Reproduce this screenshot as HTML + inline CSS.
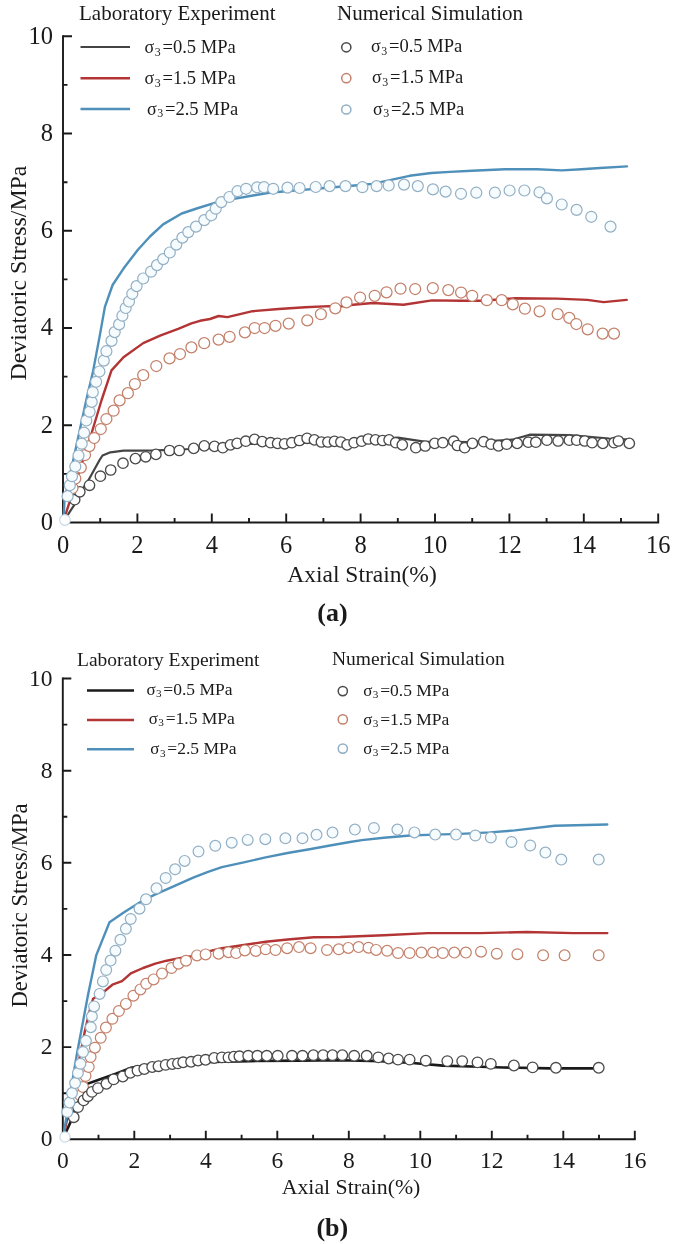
<!DOCTYPE html><html><head><meta charset="utf-8"><style>html,body{margin:0;padding:0;background:#fff;}svg{display:block;filter:blur(0.3px);}text{font-family:"Liberation Serif",serif;fill:#1a1a1a;}</style></head><body>
<svg width="685" height="1244" viewBox="0 0 685 1244">
<rect width="685" height="1244" fill="#fff"/>
<path d="M63.0,36.3 V522.5 H658.2" fill="none" stroke="#1a1a1a" stroke-width="1.9" stroke-linecap="square"/><path d="M100.2,522.5v-4.5 M137.4,522.5v-9 M174.6,522.5v-4.5 M211.8,522.5v-9 M249.0,522.5v-4.5 M286.2,522.5v-9 M323.4,522.5v-4.5 M360.6,522.5v-9 M397.8,522.5v-4.5 M435.0,522.5v-9 M472.2,522.5v-4.5 M509.4,522.5v-9 M546.6,522.5v-4.5 M583.8,522.5v-9 M621.0,522.5v-4.5 M658.2,522.5v-9 M63.0,473.9h4.5 M63.0,425.3h9 M63.0,376.6h4.5 M63.0,328.0h9 M63.0,279.4h4.5 M63.0,230.8h9 M63.0,182.2h4.5 M63.0,133.5h9 M63.0,84.9h4.5 M63.0,36.3h9" stroke="#1a1a1a" stroke-width="1.9" fill="none"/>
<text x="63.0" y="552.5" font-size="24.5" text-anchor="middle">0</text><text x="137.4" y="552.5" font-size="24.5" text-anchor="middle">2</text><text x="211.8" y="552.5" font-size="24.5" text-anchor="middle">4</text><text x="286.2" y="552.5" font-size="24.5" text-anchor="middle">6</text><text x="360.6" y="552.5" font-size="24.5" text-anchor="middle">8</text><text x="435.0" y="552.5" font-size="24.5" text-anchor="middle">10</text><text x="509.4" y="552.5" font-size="24.5" text-anchor="middle">12</text><text x="583.8" y="552.5" font-size="24.5" text-anchor="middle">14</text><text x="658.2" y="552.5" font-size="24.5" text-anchor="middle">16</text><text x="52.9" y="529.7" font-size="24.5" text-anchor="end">0</text><text x="52.9" y="432.5" font-size="24.5" text-anchor="end">2</text><text x="52.9" y="335.2" font-size="24.5" text-anchor="end">4</text><text x="52.9" y="238.0" font-size="24.5" text-anchor="end">6</text><text x="52.9" y="140.7" font-size="24.5" text-anchor="end">8</text><text x="52.9" y="43.5" font-size="24.5" text-anchor="end">10</text>
<polyline points="63.5,521.0 66.0,517.7 74.0,505.3 83.5,487.7 88.7,479.7 99.6,460.0 102.5,455.5 110.4,452.3 123.6,450.7 138.3,450.7 157.3,450.4 190.0,449.0 250.0,444.0 300.0,443.0 350.0,442.0 397.9,437.7 424.2,441.6 470.0,442.0 512.2,439.7 529.6,434.7 569.3,435.2 609.0,438.5 628.8,439.7" fill="none" stroke="#444" stroke-width="2.2" stroke-linejoin="round" stroke-linecap="round"/>
<polyline points="63.5,521.0 91.8,432.5 101.6,400.0 111.5,370.4 123.5,357.3 143.2,343.1 160.7,335.4 178.2,328.8 191.4,323.4 200.0,320.8 210.0,319.0 218.6,316.0 227.4,317.1 252.6,311.2 278.8,309.0 305.1,307.2 329.2,306.1 340.0,306.5 353.1,304.7 372.8,303.0 403.5,304.7 432.0,300.4 460.4,300.8 482.3,300.8 515.0,298.2 556.6,298.6 587.3,299.9 603.7,302.1 626.7,299.9" fill="none" stroke="#b33434" stroke-width="2.4" stroke-linejoin="round" stroke-linecap="round"/>
<polyline points="63.5,521.0 64.5,500.0 76.4,445.7 86.3,400.0 92.8,372.6 99.4,337.6 104.9,306.9 112.6,285.0 123.5,268.6 137.7,250.0 150.0,236.5 163.1,224.4 181.7,213.5 198.2,208.0 215.7,202.6 235.4,198.6 252.9,195.5 269.3,192.7 285.8,191.2 300.0,190.1 321.9,188.3 354.7,185.5 372.3,183.9 387.6,180.7 409.5,175.8 431.4,173.0 450.0,171.9 471.9,170.8 504.7,169.3 537.6,169.3 561.7,170.4 581.4,169.3 600.0,168.0 627.0,166.4" fill="none" stroke="#4f90ba" stroke-width="2.4" stroke-linejoin="round" stroke-linecap="round"/>
<circle cx="74.7" cy="499.7" r="5.2" fill="#fff" stroke="#4a4a4a" stroke-width="1.35"/><circle cx="79.8" cy="491.8" r="5.2" fill="#fff" stroke="#4a4a4a" stroke-width="1.35"/><circle cx="89.5" cy="485.3" r="5.2" fill="#fff" stroke="#4a4a4a" stroke-width="1.35"/><circle cx="100.4" cy="476.2" r="5.2" fill="#fff" stroke="#4a4a4a" stroke-width="1.35"/><circle cx="110.7" cy="470.0" r="5.2" fill="#fff" stroke="#4a4a4a" stroke-width="1.35"/><circle cx="123.0" cy="463.2" r="5.2" fill="#fff" stroke="#4a4a4a" stroke-width="1.35"/><circle cx="135.4" cy="458.6" r="5.2" fill="#fff" stroke="#4a4a4a" stroke-width="1.35"/><circle cx="145.7" cy="456.8" r="5.2" fill="#fff" stroke="#4a4a4a" stroke-width="1.35"/><circle cx="155.9" cy="454.4" r="5.2" fill="#fff" stroke="#4a4a4a" stroke-width="1.35"/><circle cx="169.5" cy="450.5" r="5.2" fill="#fff" stroke="#4a4a4a" stroke-width="1.35"/><circle cx="179.3" cy="450.5" r="5.2" fill="#fff" stroke="#4a4a4a" stroke-width="1.35"/><circle cx="193.7" cy="448.4" r="5.2" fill="#fff" stroke="#4a4a4a" stroke-width="1.35"/><circle cx="204.3" cy="445.9" r="5.2" fill="#fff" stroke="#4a4a4a" stroke-width="1.35"/><circle cx="214.5" cy="446.4" r="5.2" fill="#fff" stroke="#4a4a4a" stroke-width="1.35"/><circle cx="222.8" cy="447.7" r="5.2" fill="#fff" stroke="#4a4a4a" stroke-width="1.35"/><circle cx="230.5" cy="444.9" r="5.2" fill="#fff" stroke="#4a4a4a" stroke-width="1.35"/><circle cx="237.1" cy="443.4" r="5.2" fill="#fff" stroke="#4a4a4a" stroke-width="1.35"/><circle cx="245.8" cy="441.2" r="5.2" fill="#fff" stroke="#4a4a4a" stroke-width="1.35"/><circle cx="254.6" cy="439.4" r="5.2" fill="#fff" stroke="#4a4a4a" stroke-width="1.35"/><circle cx="262.3" cy="441.6" r="5.2" fill="#fff" stroke="#4a4a4a" stroke-width="1.35"/><circle cx="270.6" cy="442.7" r="5.2" fill="#fff" stroke="#4a4a4a" stroke-width="1.35"/><circle cx="277.6" cy="443.4" r="5.2" fill="#fff" stroke="#4a4a4a" stroke-width="1.35"/><circle cx="284.6" cy="443.8" r="5.2" fill="#fff" stroke="#4a4a4a" stroke-width="1.35"/><circle cx="291.8" cy="442.7" r="5.2" fill="#fff" stroke="#4a4a4a" stroke-width="1.35"/><circle cx="299.5" cy="440.5" r="5.2" fill="#fff" stroke="#4a4a4a" stroke-width="1.35"/><circle cx="307.1" cy="438.3" r="5.2" fill="#fff" stroke="#4a4a4a" stroke-width="1.35"/><circle cx="314.4" cy="439.9" r="5.2" fill="#fff" stroke="#4a4a4a" stroke-width="1.35"/><circle cx="321.4" cy="442.0" r="5.2" fill="#fff" stroke="#4a4a4a" stroke-width="1.35"/><circle cx="327.9" cy="442.0" r="5.2" fill="#fff" stroke="#4a4a4a" stroke-width="1.35"/><circle cx="334.5" cy="441.4" r="5.2" fill="#fff" stroke="#4a4a4a" stroke-width="1.35"/><circle cx="340.9" cy="442.0" r="5.2" fill="#fff" stroke="#4a4a4a" stroke-width="1.35"/><circle cx="347.1" cy="444.9" r="5.2" fill="#fff" stroke="#4a4a4a" stroke-width="1.35"/><circle cx="354.1" cy="442.7" r="5.2" fill="#fff" stroke="#4a4a4a" stroke-width="1.35"/><circle cx="361.7" cy="441.2" r="5.2" fill="#fff" stroke="#4a4a4a" stroke-width="1.35"/><circle cx="368.3" cy="439.0" r="5.2" fill="#fff" stroke="#4a4a4a" stroke-width="1.35"/><circle cx="375.5" cy="439.9" r="5.2" fill="#fff" stroke="#4a4a4a" stroke-width="1.35"/><circle cx="382.6" cy="440.5" r="5.2" fill="#fff" stroke="#4a4a4a" stroke-width="1.35"/><circle cx="389.1" cy="439.9" r="5.2" fill="#fff" stroke="#4a4a4a" stroke-width="1.35"/><circle cx="395.7" cy="442.7" r="5.2" fill="#fff" stroke="#4a4a4a" stroke-width="1.35"/><circle cx="402.3" cy="444.9" r="5.2" fill="#fff" stroke="#4a4a4a" stroke-width="1.35"/><circle cx="415.8" cy="447.7" r="5.2" fill="#fff" stroke="#4a4a4a" stroke-width="1.35"/><circle cx="425.2" cy="446.0" r="5.2" fill="#fff" stroke="#4a4a4a" stroke-width="1.35"/><circle cx="434.7" cy="443.4" r="5.2" fill="#fff" stroke="#4a4a4a" stroke-width="1.35"/><circle cx="442.8" cy="442.7" r="5.2" fill="#fff" stroke="#4a4a4a" stroke-width="1.35"/><circle cx="453.7" cy="441.2" r="5.2" fill="#fff" stroke="#4a4a4a" stroke-width="1.35"/><circle cx="457.4" cy="445.5" r="5.2" fill="#fff" stroke="#4a4a4a" stroke-width="1.35"/><circle cx="464.7" cy="447.7" r="5.2" fill="#fff" stroke="#4a4a4a" stroke-width="1.35"/><circle cx="472.4" cy="443.4" r="5.2" fill="#fff" stroke="#4a4a4a" stroke-width="1.35"/><circle cx="483.7" cy="441.7" r="5.2" fill="#fff" stroke="#4a4a4a" stroke-width="1.35"/><circle cx="491.1" cy="444.2" r="5.2" fill="#fff" stroke="#4a4a4a" stroke-width="1.35"/><circle cx="498.5" cy="445.9" r="5.2" fill="#fff" stroke="#4a4a4a" stroke-width="1.35"/><circle cx="506.7" cy="444.2" r="5.2" fill="#fff" stroke="#4a4a4a" stroke-width="1.35"/><circle cx="517.2" cy="443.4" r="5.2" fill="#fff" stroke="#4a4a4a" stroke-width="1.35"/><circle cx="528.3" cy="442.2" r="5.2" fill="#fff" stroke="#4a4a4a" stroke-width="1.35"/><circle cx="535.8" cy="442.2" r="5.2" fill="#fff" stroke="#4a4a4a" stroke-width="1.35"/><circle cx="546.9" cy="440.2" r="5.2" fill="#fff" stroke="#4a4a4a" stroke-width="1.35"/><circle cx="558.1" cy="441.0" r="5.2" fill="#fff" stroke="#4a4a4a" stroke-width="1.35"/><circle cx="569.3" cy="440.2" r="5.2" fill="#fff" stroke="#4a4a4a" stroke-width="1.35"/><circle cx="576.7" cy="440.2" r="5.2" fill="#fff" stroke="#4a4a4a" stroke-width="1.35"/><circle cx="584.7" cy="441.0" r="5.2" fill="#fff" stroke="#4a4a4a" stroke-width="1.35"/><circle cx="592.1" cy="442.7" r="5.2" fill="#fff" stroke="#4a4a4a" stroke-width="1.35"/><circle cx="602.8" cy="443.4" r="5.2" fill="#fff" stroke="#4a4a4a" stroke-width="1.35"/><circle cx="614.0" cy="442.7" r="5.2" fill="#fff" stroke="#4a4a4a" stroke-width="1.35"/><circle cx="618.4" cy="441.0" r="5.2" fill="#fff" stroke="#4a4a4a" stroke-width="1.35"/><circle cx="629.3" cy="443.4" r="5.2" fill="#fff" stroke="#4a4a4a" stroke-width="1.35"/>
<circle cx="72.5" cy="488.0" r="5.5" fill="#fff" stroke="#c4806a" stroke-width="1.25"/><circle cx="75.3" cy="478.5" r="5.5" fill="#fff" stroke="#c4806a" stroke-width="1.25"/><circle cx="80.8" cy="467.6" r="5.5" fill="#fff" stroke="#c4806a" stroke-width="1.25"/><circle cx="85.0" cy="455.0" r="5.5" fill="#fff" stroke="#c4806a" stroke-width="1.25"/><circle cx="89.4" cy="446.1" r="5.5" fill="#fff" stroke="#c4806a" stroke-width="1.25"/><circle cx="94.2" cy="438.0" r="5.5" fill="#fff" stroke="#c4806a" stroke-width="1.25"/><circle cx="100.8" cy="429.0" r="5.5" fill="#fff" stroke="#c4806a" stroke-width="1.25"/><circle cx="106.4" cy="419.0" r="5.5" fill="#fff" stroke="#c4806a" stroke-width="1.25"/><circle cx="113.6" cy="410.7" r="5.5" fill="#fff" stroke="#c4806a" stroke-width="1.25"/><circle cx="119.6" cy="400.4" r="5.5" fill="#fff" stroke="#c4806a" stroke-width="1.25"/><circle cx="127.9" cy="393.2" r="5.5" fill="#fff" stroke="#c4806a" stroke-width="1.25"/><circle cx="134.9" cy="384.0" r="5.5" fill="#fff" stroke="#c4806a" stroke-width="1.25"/><circle cx="143.2" cy="375.2" r="5.5" fill="#fff" stroke="#c4806a" stroke-width="1.25"/><circle cx="156.3" cy="366.0" r="5.5" fill="#fff" stroke="#c4806a" stroke-width="1.25"/><circle cx="169.5" cy="358.4" r="5.5" fill="#fff" stroke="#c4806a" stroke-width="1.25"/><circle cx="180.0" cy="354.0" r="5.5" fill="#fff" stroke="#c4806a" stroke-width="1.25"/><circle cx="191.4" cy="347.4" r="5.5" fill="#fff" stroke="#c4806a" stroke-width="1.25"/><circle cx="204.2" cy="343.2" r="5.5" fill="#fff" stroke="#c4806a" stroke-width="1.25"/><circle cx="218.6" cy="339.6" r="5.5" fill="#fff" stroke="#c4806a" stroke-width="1.25"/><circle cx="229.6" cy="336.8" r="5.5" fill="#fff" stroke="#c4806a" stroke-width="1.25"/><circle cx="244.9" cy="332.4" r="5.5" fill="#fff" stroke="#c4806a" stroke-width="1.25"/><circle cx="254.7" cy="328.0" r="5.5" fill="#fff" stroke="#c4806a" stroke-width="1.25"/><circle cx="264.6" cy="328.0" r="5.5" fill="#fff" stroke="#c4806a" stroke-width="1.25"/><circle cx="275.5" cy="325.8" r="5.5" fill="#fff" stroke="#c4806a" stroke-width="1.25"/><circle cx="288.7" cy="323.6" r="5.5" fill="#fff" stroke="#c4806a" stroke-width="1.25"/><circle cx="307.3" cy="320.4" r="5.5" fill="#fff" stroke="#c4806a" stroke-width="1.25"/><circle cx="320.9" cy="314.2" r="5.5" fill="#fff" stroke="#c4806a" stroke-width="1.25"/><circle cx="335.3" cy="308.3" r="5.5" fill="#fff" stroke="#c4806a" stroke-width="1.25"/><circle cx="346.5" cy="302.4" r="5.5" fill="#fff" stroke="#c4806a" stroke-width="1.25"/><circle cx="360.1" cy="297.5" r="5.5" fill="#fff" stroke="#c4806a" stroke-width="1.25"/><circle cx="374.7" cy="295.8" r="5.5" fill="#fff" stroke="#c4806a" stroke-width="1.25"/><circle cx="386.5" cy="292.3" r="5.5" fill="#fff" stroke="#c4806a" stroke-width="1.25"/><circle cx="400.5" cy="288.7" r="5.5" fill="#fff" stroke="#c4806a" stroke-width="1.25"/><circle cx="415.2" cy="289.0" r="5.5" fill="#fff" stroke="#c4806a" stroke-width="1.25"/><circle cx="432.8" cy="288.1" r="5.5" fill="#fff" stroke="#c4806a" stroke-width="1.25"/><circle cx="448.3" cy="290.1" r="5.5" fill="#fff" stroke="#c4806a" stroke-width="1.25"/><circle cx="461.1" cy="292.5" r="5.5" fill="#fff" stroke="#c4806a" stroke-width="1.25"/><circle cx="472.2" cy="295.8" r="5.5" fill="#fff" stroke="#c4806a" stroke-width="1.25"/><circle cx="486.8" cy="300.2" r="5.5" fill="#fff" stroke="#c4806a" stroke-width="1.25"/><circle cx="501.7" cy="300.2" r="5.5" fill="#fff" stroke="#c4806a" stroke-width="1.25"/><circle cx="512.8" cy="304.3" r="5.5" fill="#fff" stroke="#c4806a" stroke-width="1.25"/><circle cx="524.9" cy="308.7" r="5.5" fill="#fff" stroke="#c4806a" stroke-width="1.25"/><circle cx="539.6" cy="311.3" r="5.5" fill="#fff" stroke="#c4806a" stroke-width="1.25"/><circle cx="557.7" cy="314.2" r="5.5" fill="#fff" stroke="#c4806a" stroke-width="1.25"/><circle cx="569.3" cy="317.9" r="5.5" fill="#fff" stroke="#c4806a" stroke-width="1.25"/><circle cx="576.3" cy="324.0" r="5.5" fill="#fff" stroke="#c4806a" stroke-width="1.25"/><circle cx="587.7" cy="329.3" r="5.5" fill="#fff" stroke="#c4806a" stroke-width="1.25"/><circle cx="602.6" cy="333.6" r="5.5" fill="#fff" stroke="#c4806a" stroke-width="1.25"/><circle cx="614.0" cy="333.6" r="5.5" fill="#fff" stroke="#c4806a" stroke-width="1.25"/>
<circle cx="67.6" cy="496.2" r="5.5" fill="#f6fbfd" stroke="#93afc3" stroke-width="1.2"/><circle cx="69.8" cy="485.3" r="5.5" fill="#f6fbfd" stroke="#93afc3" stroke-width="1.2"/><circle cx="72.0" cy="476.2" r="5.5" fill="#f6fbfd" stroke="#93afc3" stroke-width="1.2"/><circle cx="75.3" cy="466.5" r="5.5" fill="#f6fbfd" stroke="#93afc3" stroke-width="1.2"/><circle cx="78.5" cy="455.5" r="5.5" fill="#f6fbfd" stroke="#93afc3" stroke-width="1.2"/><circle cx="81.7" cy="443.7" r="5.5" fill="#f6fbfd" stroke="#93afc3" stroke-width="1.2"/><circle cx="84.1" cy="432.7" r="5.5" fill="#f6fbfd" stroke="#93afc3" stroke-width="1.2"/><circle cx="86.3" cy="420.5" r="5.5" fill="#f6fbfd" stroke="#93afc3" stroke-width="1.2"/><circle cx="89.6" cy="411.7" r="5.5" fill="#f6fbfd" stroke="#93afc3" stroke-width="1.2"/><circle cx="91.7" cy="401.9" r="5.5" fill="#f6fbfd" stroke="#93afc3" stroke-width="1.2"/><circle cx="92.8" cy="392.2" r="5.5" fill="#f6fbfd" stroke="#93afc3" stroke-width="1.2"/><circle cx="96.1" cy="381.8" r="5.5" fill="#f6fbfd" stroke="#93afc3" stroke-width="1.2"/><circle cx="99.4" cy="371.5" r="5.5" fill="#f6fbfd" stroke="#93afc3" stroke-width="1.2"/><circle cx="103.8" cy="360.6" r="5.5" fill="#f6fbfd" stroke="#93afc3" stroke-width="1.2"/><circle cx="106.4" cy="351.2" r="5.5" fill="#f6fbfd" stroke="#93afc3" stroke-width="1.2"/><circle cx="111.5" cy="340.9" r="5.5" fill="#f6fbfd" stroke="#93afc3" stroke-width="1.2"/><circle cx="114.7" cy="332.1" r="5.5" fill="#f6fbfd" stroke="#93afc3" stroke-width="1.2"/><circle cx="119.1" cy="324.4" r="5.5" fill="#f6fbfd" stroke="#93afc3" stroke-width="1.2"/><circle cx="122.4" cy="315.7" r="5.5" fill="#f6fbfd" stroke="#93afc3" stroke-width="1.2"/><circle cx="125.7" cy="308.0" r="5.5" fill="#f6fbfd" stroke="#93afc3" stroke-width="1.2"/><circle cx="129.0" cy="301.5" r="5.5" fill="#f6fbfd" stroke="#93afc3" stroke-width="1.2"/><circle cx="132.3" cy="293.8" r="5.5" fill="#f6fbfd" stroke="#93afc3" stroke-width="1.2"/><circle cx="136.6" cy="286.1" r="5.5" fill="#f6fbfd" stroke="#93afc3" stroke-width="1.2"/><circle cx="143.2" cy="278.5" r="5.5" fill="#f6fbfd" stroke="#93afc3" stroke-width="1.2"/><circle cx="151.0" cy="271.7" r="5.5" fill="#f6fbfd" stroke="#93afc3" stroke-width="1.2"/><circle cx="157.0" cy="265.1" r="5.5" fill="#f6fbfd" stroke="#93afc3" stroke-width="1.2"/><circle cx="163.2" cy="259.1" r="5.5" fill="#f6fbfd" stroke="#93afc3" stroke-width="1.2"/><circle cx="169.8" cy="252.5" r="5.5" fill="#f6fbfd" stroke="#93afc3" stroke-width="1.2"/><circle cx="176.3" cy="244.6" r="5.5" fill="#f6fbfd" stroke="#93afc3" stroke-width="1.2"/><circle cx="182.4" cy="237.6" r="5.5" fill="#f6fbfd" stroke="#93afc3" stroke-width="1.2"/><circle cx="188.3" cy="232.1" r="5.5" fill="#f6fbfd" stroke="#93afc3" stroke-width="1.2"/><circle cx="196.0" cy="226.6" r="5.5" fill="#f6fbfd" stroke="#93afc3" stroke-width="1.2"/><circle cx="204.3" cy="220.1" r="5.5" fill="#f6fbfd" stroke="#93afc3" stroke-width="1.2"/><circle cx="211.3" cy="215.3" r="5.5" fill="#f6fbfd" stroke="#93afc3" stroke-width="1.2"/><circle cx="215.7" cy="208.7" r="5.5" fill="#f6fbfd" stroke="#93afc3" stroke-width="1.2"/><circle cx="221.3" cy="202.1" r="5.5" fill="#f6fbfd" stroke="#93afc3" stroke-width="1.2"/><circle cx="229.4" cy="197.0" r="5.5" fill="#f6fbfd" stroke="#93afc3" stroke-width="1.2"/><circle cx="237.5" cy="191.2" r="5.5" fill="#f6fbfd" stroke="#93afc3" stroke-width="1.2"/><circle cx="246.1" cy="188.8" r="5.5" fill="#f6fbfd" stroke="#93afc3" stroke-width="1.2"/><circle cx="257.2" cy="187.3" r="5.5" fill="#f6fbfd" stroke="#93afc3" stroke-width="1.2"/><circle cx="264.0" cy="187.2" r="5.5" fill="#f6fbfd" stroke="#93afc3" stroke-width="1.2"/><circle cx="273.2" cy="188.8" r="5.5" fill="#f6fbfd" stroke="#93afc3" stroke-width="1.2"/><circle cx="287.5" cy="187.6" r="5.5" fill="#f6fbfd" stroke="#93afc3" stroke-width="1.2"/><circle cx="299.6" cy="188.0" r="5.5" fill="#f6fbfd" stroke="#93afc3" stroke-width="1.2"/><circle cx="315.7" cy="187.0" r="5.5" fill="#f6fbfd" stroke="#93afc3" stroke-width="1.2"/><circle cx="329.6" cy="186.1" r="5.5" fill="#f6fbfd" stroke="#93afc3" stroke-width="1.2"/><circle cx="345.5" cy="186.1" r="5.5" fill="#f6fbfd" stroke="#93afc3" stroke-width="1.2"/><circle cx="362.4" cy="187.2" r="5.5" fill="#f6fbfd" stroke="#93afc3" stroke-width="1.2"/><circle cx="376.6" cy="186.1" r="5.5" fill="#f6fbfd" stroke="#93afc3" stroke-width="1.2"/><circle cx="388.7" cy="185.5" r="5.5" fill="#f6fbfd" stroke="#93afc3" stroke-width="1.2"/><circle cx="404.0" cy="184.6" r="5.5" fill="#f6fbfd" stroke="#93afc3" stroke-width="1.2"/><circle cx="417.8" cy="186.1" r="5.5" fill="#f6fbfd" stroke="#93afc3" stroke-width="1.2"/><circle cx="432.9" cy="189.4" r="5.5" fill="#f6fbfd" stroke="#93afc3" stroke-width="1.2"/><circle cx="445.6" cy="191.6" r="5.5" fill="#f6fbfd" stroke="#93afc3" stroke-width="1.2"/><circle cx="461.0" cy="193.8" r="5.5" fill="#f6fbfd" stroke="#93afc3" stroke-width="1.2"/><circle cx="476.3" cy="192.7" r="5.5" fill="#f6fbfd" stroke="#93afc3" stroke-width="1.2"/><circle cx="494.9" cy="192.7" r="5.5" fill="#f6fbfd" stroke="#93afc3" stroke-width="1.2"/><circle cx="509.6" cy="190.5" r="5.5" fill="#f6fbfd" stroke="#93afc3" stroke-width="1.2"/><circle cx="524.4" cy="190.5" r="5.5" fill="#f6fbfd" stroke="#93afc3" stroke-width="1.2"/><circle cx="539.5" cy="192.3" r="5.5" fill="#f6fbfd" stroke="#93afc3" stroke-width="1.2"/><circle cx="546.9" cy="198.4" r="5.5" fill="#f6fbfd" stroke="#93afc3" stroke-width="1.2"/><circle cx="561.7" cy="204.5" r="5.5" fill="#f6fbfd" stroke="#93afc3" stroke-width="1.2"/><circle cx="576.6" cy="209.9" r="5.5" fill="#f6fbfd" stroke="#93afc3" stroke-width="1.2"/><circle cx="591.3" cy="216.8" r="5.5" fill="#f6fbfd" stroke="#93afc3" stroke-width="1.2"/><circle cx="610.5" cy="226.6" r="5.5" fill="#f6fbfd" stroke="#93afc3" stroke-width="1.2"/>
<circle cx="65.0" cy="520.0" r="5.3" fill="#fff" stroke="#c9dbe6" stroke-width="1.2"/>
<text x="79" y="19.6" font-size="21">Laboratory Experiment</text>
<text x="337" y="20" font-size="21">Numerical Simulation</text>
<line x1="80.5" y1="47" x2="130" y2="47" stroke="#444" stroke-width="2.2"/>
<line x1="80.5" y1="78.3" x2="130" y2="78.3" stroke="#b33434" stroke-width="2.4"/>
<line x1="80.5" y1="109" x2="130" y2="109" stroke="#4f90ba" stroke-width="2.4"/>
<text x="144.5" y="52.8" font-size="18">σ<tspan font-size="11.9" dy="2.7" dx="0.5">3</tspan><tspan dy="-2.7" dx="1.8" font-size="18.54">=0.5 MPa</tspan></text>
<text x="144.5" y="84" font-size="18">σ<tspan font-size="11.9" dy="2.7" dx="0.5">3</tspan><tspan dy="-2.7" dx="1.8" font-size="18.54">=1.5 MPa</tspan></text>
<text x="147" y="114.7" font-size="18">σ<tspan font-size="11.9" dy="2.7" dx="0.5">3</tspan><tspan dy="-2.7" dx="1.8" font-size="18.54">=2.5 MPa</tspan></text>
<circle cx="346.3" cy="47.3" r="4.6" fill="#fff" stroke="#4a4a4a" stroke-width="1.5"/>
<circle cx="346.3" cy="78.2" r="4.6" fill="#fff" stroke="#c4806a" stroke-width="1.5"/>
<circle cx="346.3" cy="109.5" r="4.6" fill="#fff" stroke="#93afc3" stroke-width="1.5"/>
<text x="371" y="52" font-size="18">σ<tspan font-size="11.9" dy="2.7" dx="0.5">3</tspan><tspan dy="-2.7" dx="1.8" font-size="18.54">=0.5 MPa</tspan></text>
<text x="372" y="83.2" font-size="18">σ<tspan font-size="11.9" dy="2.7" dx="0.5">3</tspan><tspan dy="-2.7" dx="1.8" font-size="18.54">=1.5 MPa</tspan></text>
<text x="373" y="114.5" font-size="18">σ<tspan font-size="11.9" dy="2.7" dx="0.5">3</tspan><tspan dy="-2.7" dx="1.8" font-size="18.54">=2.5 MPa</tspan></text>
<text x="362" y="581.5" font-size="23.5" text-anchor="middle">Axial Strain(%)</text>
<text transform="translate(26.2,273) rotate(-90)" font-size="23.8" text-anchor="middle">Deviatoric Stress/MPa</text>
<text x="332.5" y="621.3" font-size="26" font-weight="bold" text-anchor="middle">(a)</text>
<path d="M62.8,678.5 V1139.3 H634.8" fill="none" stroke="#1a1a1a" stroke-width="1.9" stroke-linecap="square"/><path d="M98.5,1139.3v-4.5 M134.3,1139.3v-8.5 M170.1,1139.3v-4.5 M205.8,1139.3v-8.5 M241.6,1139.3v-4.5 M277.3,1139.3v-8.5 M313.1,1139.3v-4.5 M348.8,1139.3v-8.5 M384.6,1139.3v-4.5 M420.3,1139.3v-8.5 M456.1,1139.3v-4.5 M491.8,1139.3v-8.5 M527.5,1139.3v-4.5 M563.3,1139.3v-8.5 M599.0,1139.3v-4.5 M634.8,1139.3v-8.5 M62.8,1093.2h4.5 M62.8,1047.1h8.5 M62.8,1001.1h4.5 M62.8,955.0h8.5 M62.8,908.9h4.5 M62.8,862.8h8.5 M62.8,816.7h4.5 M62.8,770.7h8.5 M62.8,724.6h4.5 M62.8,678.5h8.5" stroke="#1a1a1a" stroke-width="1.9" fill="none"/>
<text x="62.8" y="1167.8" font-size="23.5" text-anchor="middle">0</text><text x="134.3" y="1167.8" font-size="23.5" text-anchor="middle">2</text><text x="205.8" y="1167.8" font-size="23.5" text-anchor="middle">4</text><text x="277.3" y="1167.8" font-size="23.5" text-anchor="middle">6</text><text x="348.8" y="1167.8" font-size="23.5" text-anchor="middle">8</text><text x="420.3" y="1167.8" font-size="23.5" text-anchor="middle">10</text><text x="491.8" y="1167.8" font-size="23.5" text-anchor="middle">12</text><text x="563.3" y="1167.8" font-size="23.5" text-anchor="middle">14</text><text x="634.8" y="1167.8" font-size="23.5" text-anchor="middle">16</text><text x="52.6" y="1146.3" font-size="23.5" text-anchor="end">0</text><text x="52.6" y="1054.1" font-size="23.5" text-anchor="end">2</text><text x="52.6" y="962.0" font-size="23.5" text-anchor="end">4</text><text x="52.6" y="869.8" font-size="23.5" text-anchor="end">6</text><text x="52.6" y="777.7" font-size="23.5" text-anchor="end">8</text><text x="52.6" y="685.5" font-size="23.5" text-anchor="end">10</text>
<polyline points="63.8,1137.0 70.4,1122.4 74.1,1112.1 85.7,1084.4 96.0,1080.7 116.4,1073.4 130.7,1067.9 150.0,1064.6 175.0,1062.6 200.0,1062.1 250.0,1061.1 300.0,1060.6 340.0,1060.2 380.0,1061.1 412.3,1063.0 442.9,1065.6 480.0,1066.8 503.4,1067.5 550.1,1068.4 599.1,1068.4" fill="none" stroke="#1a1a1a" stroke-width="2.6" stroke-linejoin="round" stroke-linecap="round"/>
<polyline points="63.5,1137.0 72.0,1095.0 82.1,1045.0 84.9,1031.0 89.6,1011.0 93.1,998.7 104.5,991.2 112.4,984.7 122.0,981.2 130.8,973.3 143.1,968.0 155.3,963.7 166.7,960.7 178.1,958.4 192.1,956.1 200.0,953.5 221.9,948.2 243.8,945.0 265.7,941.7 287.6,939.5 313.9,937.3 340.0,937.0 383.8,935.3 427.6,933.1 480.0,933.1 526.7,932.0 573.4,933.1 607.3,933.1" fill="none" stroke="#b33434" stroke-width="2.4" stroke-linejoin="round" stroke-linecap="round"/>
<polyline points="63.5,1135.0 76.6,1055.7 88.0,995.0 96.3,955.1 109.5,922.3 123.7,912.4 141.2,901.5 154.3,894.9 174.1,886.1 193.8,877.4 208.0,871.9 221.9,867.2 243.8,862.4 265.7,857.4 287.6,853.0 309.5,849.3 331.4,845.3 350.0,842.0 361.9,840.1 383.8,837.7 410.1,835.5 434.2,834.6 460.4,833.9 490.0,832.4 515.0,830.4 554.7,825.7 607.3,824.5" fill="none" stroke="#4f90ba" stroke-width="2.4" stroke-linejoin="round" stroke-linecap="round"/>
<circle cx="80.5" cy="1095.5" r="5.4" fill="#fff" stroke="#c4806a" stroke-width="1.2"/><circle cx="83.0" cy="1087.0" r="5.4" fill="#fff" stroke="#c4806a" stroke-width="1.2"/><circle cx="85.5" cy="1076.0" r="5.4" fill="#fff" stroke="#c4806a" stroke-width="1.2"/><circle cx="88.7" cy="1067.0" r="5.4" fill="#fff" stroke="#c4806a" stroke-width="1.2"/><circle cx="90.6" cy="1057.0" r="5.4" fill="#fff" stroke="#c4806a" stroke-width="1.2"/><circle cx="94.9" cy="1047.7" r="5.4" fill="#fff" stroke="#c4806a" stroke-width="1.2"/><circle cx="100.7" cy="1037.8" r="5.4" fill="#fff" stroke="#c4806a" stroke-width="1.2"/><circle cx="105.9" cy="1027.6" r="5.4" fill="#fff" stroke="#c4806a" stroke-width="1.2"/><circle cx="112.4" cy="1018.8" r="5.4" fill="#fff" stroke="#c4806a" stroke-width="1.2"/><circle cx="118.9" cy="1011.0" r="5.4" fill="#fff" stroke="#c4806a" stroke-width="1.2"/><circle cx="125.9" cy="1003.9" r="5.4" fill="#fff" stroke="#c4806a" stroke-width="1.2"/><circle cx="133.4" cy="995.7" r="5.4" fill="#fff" stroke="#c4806a" stroke-width="1.2"/><circle cx="140.4" cy="989.4" r="5.4" fill="#fff" stroke="#c4806a" stroke-width="1.2"/><circle cx="146.2" cy="983.8" r="5.4" fill="#fff" stroke="#c4806a" stroke-width="1.2"/><circle cx="153.6" cy="979.4" r="5.4" fill="#fff" stroke="#c4806a" stroke-width="1.2"/><circle cx="162.0" cy="973.6" r="5.4" fill="#fff" stroke="#c4806a" stroke-width="1.2"/><circle cx="171.5" cy="968.0" r="5.4" fill="#fff" stroke="#c4806a" stroke-width="1.2"/><circle cx="178.5" cy="963.7" r="5.4" fill="#fff" stroke="#c4806a" stroke-width="1.2"/><circle cx="186.0" cy="960.7" r="5.4" fill="#fff" stroke="#c4806a" stroke-width="1.2"/><circle cx="197.0" cy="955.4" r="5.4" fill="#fff" stroke="#c4806a" stroke-width="1.2"/><circle cx="205.6" cy="954.4" r="5.4" fill="#fff" stroke="#c4806a" stroke-width="1.2"/><circle cx="218.6" cy="953.7" r="5.4" fill="#fff" stroke="#c4806a" stroke-width="1.2"/><circle cx="228.5" cy="952.2" r="5.4" fill="#fff" stroke="#c4806a" stroke-width="1.2"/><circle cx="236.1" cy="953.1" r="5.4" fill="#fff" stroke="#c4806a" stroke-width="1.2"/><circle cx="244.9" cy="950.4" r="5.4" fill="#fff" stroke="#c4806a" stroke-width="1.2"/><circle cx="255.8" cy="950.9" r="5.4" fill="#fff" stroke="#c4806a" stroke-width="1.2"/><circle cx="265.7" cy="949.3" r="5.4" fill="#fff" stroke="#c4806a" stroke-width="1.2"/><circle cx="275.5" cy="950.0" r="5.4" fill="#fff" stroke="#c4806a" stroke-width="1.2"/><circle cx="287.1" cy="948.2" r="5.4" fill="#fff" stroke="#c4806a" stroke-width="1.2"/><circle cx="299.0" cy="947.1" r="5.4" fill="#fff" stroke="#c4806a" stroke-width="1.2"/><circle cx="310.6" cy="948.2" r="5.4" fill="#fff" stroke="#c4806a" stroke-width="1.2"/><circle cx="327.0" cy="950.0" r="5.4" fill="#fff" stroke="#c4806a" stroke-width="1.2"/><circle cx="338.8" cy="949.3" r="5.4" fill="#fff" stroke="#c4806a" stroke-width="1.2"/><circle cx="348.3" cy="947.9" r="5.4" fill="#fff" stroke="#c4806a" stroke-width="1.2"/><circle cx="358.6" cy="947.1" r="5.4" fill="#fff" stroke="#c4806a" stroke-width="1.2"/><circle cx="368.5" cy="947.7" r="5.4" fill="#fff" stroke="#c4806a" stroke-width="1.2"/><circle cx="376.1" cy="949.9" r="5.4" fill="#fff" stroke="#c4806a" stroke-width="1.2"/><circle cx="387.1" cy="950.8" r="5.4" fill="#fff" stroke="#c4806a" stroke-width="1.2"/><circle cx="398.0" cy="953.0" r="5.4" fill="#fff" stroke="#c4806a" stroke-width="1.2"/><circle cx="409.6" cy="953.0" r="5.4" fill="#fff" stroke="#c4806a" stroke-width="1.2"/><circle cx="421.5" cy="952.6" r="5.4" fill="#fff" stroke="#c4806a" stroke-width="1.2"/><circle cx="433.1" cy="952.6" r="5.4" fill="#fff" stroke="#c4806a" stroke-width="1.2"/><circle cx="442.9" cy="953.0" r="5.4" fill="#fff" stroke="#c4806a" stroke-width="1.2"/><circle cx="454.3" cy="952.6" r="5.4" fill="#fff" stroke="#c4806a" stroke-width="1.2"/><circle cx="465.9" cy="952.6" r="5.4" fill="#fff" stroke="#c4806a" stroke-width="1.2"/><circle cx="481.0" cy="951.7" r="5.4" fill="#fff" stroke="#c4806a" stroke-width="1.2"/><circle cx="496.8" cy="953.7" r="5.4" fill="#fff" stroke="#c4806a" stroke-width="1.2"/><circle cx="517.4" cy="954.2" r="5.4" fill="#fff" stroke="#c4806a" stroke-width="1.2"/><circle cx="543.1" cy="955.3" r="5.4" fill="#fff" stroke="#c4806a" stroke-width="1.2"/><circle cx="564.6" cy="955.3" r="5.4" fill="#fff" stroke="#c4806a" stroke-width="1.2"/><circle cx="598.7" cy="955.3" r="5.4" fill="#fff" stroke="#c4806a" stroke-width="1.2"/>
<circle cx="73.7" cy="1117.2" r="5.3" fill="#fff" stroke="#4a4a4a" stroke-width="1.3"/><circle cx="78.0" cy="1107.1" r="5.3" fill="#fff" stroke="#4a4a4a" stroke-width="1.3"/><circle cx="83.6" cy="1100.4" r="5.3" fill="#fff" stroke="#4a4a4a" stroke-width="1.3"/><circle cx="87.9" cy="1096.2" r="5.3" fill="#fff" stroke="#4a4a4a" stroke-width="1.3"/><circle cx="92.0" cy="1091.9" r="5.3" fill="#fff" stroke="#4a4a4a" stroke-width="1.3"/><circle cx="98.0" cy="1088.1" r="5.3" fill="#fff" stroke="#4a4a4a" stroke-width="1.3"/><circle cx="106.4" cy="1083.8" r="5.3" fill="#fff" stroke="#4a4a4a" stroke-width="1.3"/><circle cx="113.6" cy="1079.4" r="5.3" fill="#fff" stroke="#4a4a4a" stroke-width="1.3"/><circle cx="122.8" cy="1076.5" r="5.3" fill="#fff" stroke="#4a4a4a" stroke-width="1.3"/><circle cx="130.3" cy="1072.8" r="5.3" fill="#fff" stroke="#4a4a4a" stroke-width="1.3"/><circle cx="137.5" cy="1070.6" r="5.3" fill="#fff" stroke="#4a4a4a" stroke-width="1.3"/><circle cx="144.3" cy="1069.0" r="5.3" fill="#fff" stroke="#4a4a4a" stroke-width="1.3"/><circle cx="152.2" cy="1067.0" r="5.3" fill="#fff" stroke="#4a4a4a" stroke-width="1.3"/><circle cx="158.5" cy="1066.2" r="5.3" fill="#fff" stroke="#4a4a4a" stroke-width="1.3"/><circle cx="165.7" cy="1064.9" r="5.3" fill="#fff" stroke="#4a4a4a" stroke-width="1.3"/><circle cx="172.3" cy="1064.0" r="5.3" fill="#fff" stroke="#4a4a4a" stroke-width="1.3"/><circle cx="178.0" cy="1063.4" r="5.3" fill="#fff" stroke="#4a4a4a" stroke-width="1.3"/><circle cx="183.2" cy="1062.3" r="5.3" fill="#fff" stroke="#4a4a4a" stroke-width="1.3"/><circle cx="191.1" cy="1061.8" r="5.3" fill="#fff" stroke="#4a4a4a" stroke-width="1.3"/><circle cx="198.1" cy="1060.5" r="5.3" fill="#fff" stroke="#4a4a4a" stroke-width="1.3"/><circle cx="205.6" cy="1059.8" r="5.3" fill="#fff" stroke="#4a4a4a" stroke-width="1.3"/><circle cx="214.2" cy="1058.0" r="5.3" fill="#fff" stroke="#4a4a4a" stroke-width="1.3"/><circle cx="221.9" cy="1057.4" r="5.3" fill="#fff" stroke="#4a4a4a" stroke-width="1.3"/><circle cx="228.5" cy="1057.4" r="5.3" fill="#fff" stroke="#4a4a4a" stroke-width="1.3"/><circle cx="233.9" cy="1056.7" r="5.3" fill="#fff" stroke="#4a4a4a" stroke-width="1.3"/><circle cx="239.4" cy="1056.3" r="5.3" fill="#fff" stroke="#4a4a4a" stroke-width="1.3"/><circle cx="248.2" cy="1055.8" r="5.3" fill="#fff" stroke="#4a4a4a" stroke-width="1.3"/><circle cx="257.4" cy="1055.8" r="5.3" fill="#fff" stroke="#4a4a4a" stroke-width="1.3"/><circle cx="266.8" cy="1055.8" r="5.3" fill="#fff" stroke="#4a4a4a" stroke-width="1.3"/><circle cx="277.7" cy="1055.8" r="5.3" fill="#fff" stroke="#4a4a4a" stroke-width="1.3"/><circle cx="292.0" cy="1055.8" r="5.3" fill="#fff" stroke="#4a4a4a" stroke-width="1.3"/><circle cx="302.5" cy="1055.8" r="5.3" fill="#fff" stroke="#4a4a4a" stroke-width="1.3"/><circle cx="313.4" cy="1055.2" r="5.3" fill="#fff" stroke="#4a4a4a" stroke-width="1.3"/><circle cx="323.1" cy="1055.2" r="5.3" fill="#fff" stroke="#4a4a4a" stroke-width="1.3"/><circle cx="332.5" cy="1055.2" r="5.3" fill="#fff" stroke="#4a4a4a" stroke-width="1.3"/><circle cx="342.3" cy="1055.2" r="5.3" fill="#fff" stroke="#4a4a4a" stroke-width="1.3"/><circle cx="354.2" cy="1055.8" r="5.3" fill="#fff" stroke="#4a4a4a" stroke-width="1.3"/><circle cx="366.7" cy="1055.8" r="5.3" fill="#fff" stroke="#4a4a4a" stroke-width="1.3"/><circle cx="378.3" cy="1057.4" r="5.3" fill="#fff" stroke="#4a4a4a" stroke-width="1.3"/><circle cx="388.6" cy="1058.5" r="5.3" fill="#fff" stroke="#4a4a4a" stroke-width="1.3"/><circle cx="398.0" cy="1059.6" r="5.3" fill="#fff" stroke="#4a4a4a" stroke-width="1.3"/><circle cx="409.6" cy="1059.6" r="5.3" fill="#fff" stroke="#4a4a4a" stroke-width="1.3"/><circle cx="425.8" cy="1060.7" r="5.3" fill="#fff" stroke="#4a4a4a" stroke-width="1.3"/><circle cx="447.3" cy="1061.1" r="5.3" fill="#fff" stroke="#4a4a4a" stroke-width="1.3"/><circle cx="462.2" cy="1061.1" r="5.3" fill="#fff" stroke="#4a4a4a" stroke-width="1.3"/><circle cx="477.5" cy="1062.4" r="5.3" fill="#fff" stroke="#4a4a4a" stroke-width="1.3"/><circle cx="490.8" cy="1063.9" r="5.3" fill="#fff" stroke="#4a4a4a" stroke-width="1.3"/><circle cx="513.9" cy="1065.5" r="5.3" fill="#fff" stroke="#4a4a4a" stroke-width="1.3"/><circle cx="532.6" cy="1067.4" r="5.3" fill="#fff" stroke="#4a4a4a" stroke-width="1.3"/><circle cx="555.9" cy="1067.8" r="5.3" fill="#fff" stroke="#4a4a4a" stroke-width="1.3"/><circle cx="598.7" cy="1067.8" r="5.3" fill="#fff" stroke="#4a4a4a" stroke-width="1.3"/>
<circle cx="67.3" cy="1112.0" r="5.4" fill="#f6fbfd" stroke="#93afc3" stroke-width="1.2"/><circle cx="69.5" cy="1102.6" r="5.4" fill="#f6fbfd" stroke="#93afc3" stroke-width="1.2"/><circle cx="72.0" cy="1093.1" r="5.4" fill="#f6fbfd" stroke="#93afc3" stroke-width="1.2"/><circle cx="75.1" cy="1083.1" r="5.4" fill="#f6fbfd" stroke="#93afc3" stroke-width="1.2"/><circle cx="77.9" cy="1073.0" r="5.4" fill="#f6fbfd" stroke="#93afc3" stroke-width="1.2"/><circle cx="80.4" cy="1063.8" r="5.4" fill="#f6fbfd" stroke="#93afc3" stroke-width="1.2"/><circle cx="83.0" cy="1052.0" r="5.4" fill="#f6fbfd" stroke="#93afc3" stroke-width="1.2"/><circle cx="85.9" cy="1040.8" r="5.4" fill="#f6fbfd" stroke="#93afc3" stroke-width="1.2"/><circle cx="90.8" cy="1027.2" r="5.4" fill="#f6fbfd" stroke="#93afc3" stroke-width="1.2"/><circle cx="91.9" cy="1016.3" r="5.4" fill="#f6fbfd" stroke="#93afc3" stroke-width="1.2"/><circle cx="94.1" cy="1006.4" r="5.4" fill="#f6fbfd" stroke="#93afc3" stroke-width="1.2"/><circle cx="99.6" cy="993.9" r="5.4" fill="#f6fbfd" stroke="#93afc3" stroke-width="1.2"/><circle cx="102.9" cy="981.4" r="5.4" fill="#f6fbfd" stroke="#93afc3" stroke-width="1.2"/><circle cx="106.2" cy="970.0" r="5.4" fill="#f6fbfd" stroke="#93afc3" stroke-width="1.2"/><circle cx="110.6" cy="960.6" r="5.4" fill="#f6fbfd" stroke="#93afc3" stroke-width="1.2"/><circle cx="115.4" cy="950.7" r="5.4" fill="#f6fbfd" stroke="#93afc3" stroke-width="1.2"/><circle cx="120.4" cy="939.8" r="5.4" fill="#f6fbfd" stroke="#93afc3" stroke-width="1.2"/><circle cx="125.9" cy="928.8" r="5.4" fill="#f6fbfd" stroke="#93afc3" stroke-width="1.2"/><circle cx="130.7" cy="919.0" r="5.4" fill="#f6fbfd" stroke="#93afc3" stroke-width="1.2"/><circle cx="139.5" cy="908.7" r="5.4" fill="#f6fbfd" stroke="#93afc3" stroke-width="1.2"/><circle cx="146.0" cy="899.3" r="5.4" fill="#f6fbfd" stroke="#93afc3" stroke-width="1.2"/><circle cx="156.5" cy="888.3" r="5.4" fill="#f6fbfd" stroke="#93afc3" stroke-width="1.2"/><circle cx="165.7" cy="878.0" r="5.4" fill="#f6fbfd" stroke="#93afc3" stroke-width="1.2"/><circle cx="175.1" cy="869.3" r="5.4" fill="#f6fbfd" stroke="#93afc3" stroke-width="1.2"/><circle cx="184.6" cy="860.9" r="5.4" fill="#f6fbfd" stroke="#93afc3" stroke-width="1.2"/><circle cx="198.5" cy="851.5" r="5.4" fill="#f6fbfd" stroke="#93afc3" stroke-width="1.2"/><circle cx="215.3" cy="845.8" r="5.4" fill="#f6fbfd" stroke="#93afc3" stroke-width="1.2"/><circle cx="231.7" cy="842.7" r="5.4" fill="#f6fbfd" stroke="#93afc3" stroke-width="1.2"/><circle cx="247.7" cy="839.9" r="5.4" fill="#f6fbfd" stroke="#93afc3" stroke-width="1.2"/><circle cx="265.3" cy="839.2" r="5.4" fill="#f6fbfd" stroke="#93afc3" stroke-width="1.2"/><circle cx="285.4" cy="838.3" r="5.4" fill="#f6fbfd" stroke="#93afc3" stroke-width="1.2"/><circle cx="302.5" cy="838.3" r="5.4" fill="#f6fbfd" stroke="#93afc3" stroke-width="1.2"/><circle cx="316.5" cy="834.8" r="5.4" fill="#f6fbfd" stroke="#93afc3" stroke-width="1.2"/><circle cx="332.5" cy="832.6" r="5.4" fill="#f6fbfd" stroke="#93afc3" stroke-width="1.2"/><circle cx="354.9" cy="829.6" r="5.4" fill="#f6fbfd" stroke="#93afc3" stroke-width="1.2"/><circle cx="373.9" cy="828.0" r="5.4" fill="#f6fbfd" stroke="#93afc3" stroke-width="1.2"/><circle cx="397.4" cy="829.6" r="5.4" fill="#f6fbfd" stroke="#93afc3" stroke-width="1.2"/><circle cx="414.4" cy="832.4" r="5.4" fill="#f6fbfd" stroke="#93afc3" stroke-width="1.2"/><circle cx="435.2" cy="834.6" r="5.4" fill="#f6fbfd" stroke="#93afc3" stroke-width="1.2"/><circle cx="456.0" cy="834.6" r="5.4" fill="#f6fbfd" stroke="#93afc3" stroke-width="1.2"/><circle cx="475.3" cy="835.5" r="5.4" fill="#f6fbfd" stroke="#93afc3" stroke-width="1.2"/><circle cx="490.8" cy="837.5" r="5.4" fill="#f6fbfd" stroke="#93afc3" stroke-width="1.2"/><circle cx="511.5" cy="842.0" r="5.4" fill="#f6fbfd" stroke="#93afc3" stroke-width="1.2"/><circle cx="530.2" cy="845.5" r="5.4" fill="#f6fbfd" stroke="#93afc3" stroke-width="1.2"/><circle cx="545.4" cy="852.6" r="5.4" fill="#f6fbfd" stroke="#93afc3" stroke-width="1.2"/><circle cx="561.3" cy="859.6" r="5.4" fill="#f6fbfd" stroke="#93afc3" stroke-width="1.2"/><circle cx="598.7" cy="859.6" r="5.4" fill="#f6fbfd" stroke="#93afc3" stroke-width="1.2"/>
<circle cx="65.0" cy="1137.0" r="5.1" fill="#fff" stroke="#c9dbe6" stroke-width="1.2"/>
<text x="77" y="665.5" font-size="19.5">Laboratory Experiment</text>
<text x="332" y="664.8" font-size="19.5">Numerical Simulation</text>
<line x1="87" y1="690.5" x2="134" y2="690.5" stroke="#1a1a1a" stroke-width="2.4"/>
<line x1="87" y1="720" x2="134" y2="720" stroke="#b33434" stroke-width="2.4"/>
<line x1="87" y1="749.2" x2="134" y2="749.2" stroke="#4f90ba" stroke-width="2.4"/>
<text x="146.4" y="694.5" font-size="17">σ<tspan font-size="11.2" dy="2.5" dx="0.5">3</tspan><tspan dy="-2.5" dx="1.7" font-size="17.51">=0.5 MPa</tspan></text>
<text x="148.7" y="723.5" font-size="17">σ<tspan font-size="11.2" dy="2.5" dx="0.5">3</tspan><tspan dy="-2.5" dx="1.7" font-size="17.51">=1.5 MPa</tspan></text>
<text x="150.3" y="754" font-size="17">σ<tspan font-size="11.2" dy="2.5" dx="0.5">3</tspan><tspan dy="-2.5" dx="1.7" font-size="17.51">=2.5 MPa</tspan></text>
<circle cx="342.8" cy="691.1" r="4.6" fill="#fff" stroke="#4a4a4a" stroke-width="1.5"/>
<circle cx="342.8" cy="719.4" r="4.6" fill="#fff" stroke="#c4806a" stroke-width="1.5"/>
<circle cx="342.8" cy="748.6" r="4.6" fill="#fff" stroke="#93afc3" stroke-width="1.5"/>
<text x="363.2" y="695.5" font-size="17">σ<tspan font-size="11.2" dy="2.5" dx="0.5">3</tspan><tspan dy="-2.5" dx="1.7" font-size="17.51">=0.5 MPa</tspan></text>
<text x="363.2" y="724.5" font-size="17">σ<tspan font-size="11.2" dy="2.5" dx="0.5">3</tspan><tspan dy="-2.5" dx="1.7" font-size="17.51">=1.5 MPa</tspan></text>
<text x="363.2" y="753.5" font-size="17">σ<tspan font-size="11.2" dy="2.5" dx="0.5">3</tspan><tspan dy="-2.5" dx="1.7" font-size="17.51">=2.5 MPa</tspan></text>
<text x="351" y="1194.4" font-size="21.8" text-anchor="middle">Axial Strain(%)</text>
<text transform="translate(27.3,905.5) rotate(-90)" font-size="22.6" text-anchor="middle">Deviatoric Stress/MPa</text>
<text x="332.3" y="1235.5" font-size="26" font-weight="bold" text-anchor="middle">(b)</text>
</svg></body></html>
